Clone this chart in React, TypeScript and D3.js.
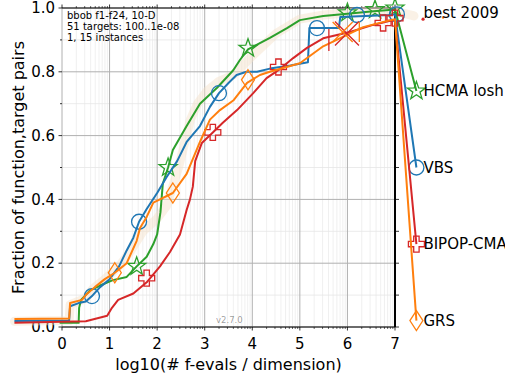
import React from 'react';
import * as d3 from 'd3';

const W = 505;
const H = 379;

// axes ticks
const xTicks = [0, 1, 2, 3, 4, 5, 6, 7];
const yTicks = [0, 0.2, 0.4, 0.6, 0.8, 1.0];
const yTickLabels = ['0.0', '0.2', '0.4', '0.6', '0.8', '1.0'];
const infoLines = ['bbob f1-f24, 10-D', '51 targets: 100..1e-08', '1, 15 instances'];

// [log10(evals/dim), fraction]
const best2009 = [
  [-1, 0.018], [0.15, 0.02], [0.17, 0.07], [0.5, 0.09], [0.65, 0.12], [0.9, 0.15],
  [1.2, 0.19], [1.45, 0.24], [1.7, 0.3], [2.0, 0.34], [2.2, 0.38], [2.45, 0.5],
  [2.7, 0.65], [2.85, 0.7], [3.05, 0.74], [3.3, 0.77], [3.6, 0.79], [4.0, 0.85],
  [4.5, 0.92], [5.0, 0.965], [5.5, 0.978], [6.2, 0.988], [7.0, 0.99], [7.4, 0.975],
];
const hcma = [
  [-0.05, 0.013], [0.35, 0.013], [0.36, 0.06], [0.4, 0.085], [0.59, 0.115], [0.8, 0.13],
  [1.07, 0.147], [1.36, 0.157], [1.57, 0.19], [1.78, 0.22], [1.92, 0.26], [2.0, 0.29],
  [2.07, 0.36], [2.12, 0.45], [2.23, 0.5], [2.33, 0.555], [2.62, 0.63], [2.9, 0.7],
  [3.26, 0.75], [3.6, 0.805], [3.74, 0.837], [3.91, 0.87], [4.37, 0.906], [4.73, 0.937],
  [5.0, 0.962], [5.49, 0.975], [6.0, 0.982], [6.55, 0.99], [7.0, 0.995], [7.45, 0.74],
];
const vbs = [
  [-1, 0.019], [0.15, 0.02], [0.17, 0.065], [0.35, 0.075], [0.5, 0.08], [0.63, 0.097],
  [0.8, 0.125], [1.0, 0.15], [1.2, 0.19], [1.36, 0.24], [1.5, 0.28], [1.62, 0.33],
  [1.78, 0.37], [2.0, 0.42], [2.2, 0.47], [2.42, 0.52], [2.62, 0.58], [2.9, 0.63],
  [3.11, 0.69], [3.3, 0.733], [3.5, 0.765], [3.67, 0.79], [3.88, 0.8], [4.1, 0.8],
  [4.37, 0.81], [4.8, 0.82], [5.17, 0.83], [5.2, 0.937], [5.82, 0.937], [5.85, 0.972],
  [6.9, 0.978], [7.0, 0.98], [7.45, 0.5],
];
const bipop = [
  [-1, 0.013], [0.5, 0.018], [0.95, 0.035], [1.05, 0.06], [1.18, 0.085], [1.5, 0.105],
  [1.78, 0.14], [2.06, 0.19], [2.27, 0.235], [2.48, 0.29], [2.62, 0.367], [2.69, 0.4],
  [2.75, 0.44], [2.8, 0.52], [2.94, 0.577], [3.17, 0.61], [3.38, 0.64], [3.68, 0.68],
  [4.02, 0.733], [4.3, 0.78], [4.55, 0.805], [4.86, 0.843], [5.15, 0.875], [5.49, 0.905],
  [6.05, 0.925], [6.54, 0.947], [6.96, 0.962], [7.0, 0.962], [7.45, 0.26],
];
const grs = [
  [-1, 0.025], [0.15, 0.027], [0.17, 0.075], [0.42, 0.085], [0.5, 0.1], [0.69, 0.125],
  [0.9, 0.15], [1.11, 0.17], [1.36, 0.2], [1.57, 0.27], [1.64, 0.31], [1.78, 0.345],
  [1.92, 0.39], [2.33, 0.42], [2.62, 0.48], [2.9, 0.58], [3.11, 0.65], [3.32, 0.68],
  [3.6, 0.71], [3.89, 0.765], [4.16, 0.79], [4.37, 0.8], [5.0, 0.827], [5.49, 0.88],
  [6.33, 0.94], [6.9, 0.962], [7.0, 0.965], [7.45, 0.02],
];

const hcmaMarks = [[1.57, 0.19], [2.23, 0.5], [3.91, 0.874], [6.0, 0.985], [6.58, 0.995], [7.0, 1.0], [7.45, 0.74]];
const vbsMarks = [[0.63, 0.097], [1.62, 0.33], [3.3, 0.733], [5.36, 0.937], [6.2, 0.978], [7.04, 0.98], [7.45, 0.5]];
const bipopMarks = [[1.78, 0.153], [3.17, 0.61], [4.55, 0.815], [6.75, 0.953], [7.0, 0.968], [7.45, 0.26]];
const grsMarks = [[1.11, 0.17], [2.33, 0.42], [3.91, 0.775], [7.45, 0.02]];

// budget crosses and bars
const crosses = [
  { x: 5.99, y: 0.92, s: 12, color: '#d62728' },
  { x: 5.9, y: 0.925, s: 10, color: '#ff7f0e' },
];
const bars = [
  { x: 5.61, y: 0.9, s: 11, color: '#d62728' },
  { x: 6.25, y: 0.925, s: 10, color: '#ff7f0e' },
];

const series = [
  { name: 'HCMA losh', data: hcma, marks: hcmaMarks, color: '#2ca02c', marker: 'star' },
  { name: 'VBS', data: vbs, marks: vbsMarks, color: '#1f77b4', marker: 'circle' },
  { name: 'BIPOP-CMA', data: bipop, marks: bipopMarks, color: '#d62728', marker: 'plus' },
  { name: 'GRS', data: grs, marks: grsMarks, color: '#ff7f0e', marker: 'diamond' },
];

const markerPath = (type: string) => {
  if (type === 'circle') return d3.symbol(d3.symbolCircle, Math.PI * 7.5 * 7.5)();
  if (type === 'star') {
    const pts = d3.range(10).map((i) => {
      const r = i % 2 === 0 ? 9.5 : 3.8;
      const a = (i * Math.PI) / 5;
      return [r * Math.sin(a), -r * Math.cos(a)];
    });
    return 'M' + pts.map((p) => p.join(',')).join('L') + 'Z';
  }
  if (type === 'plus') {
    const o = 8, i = 2.7;
    return `M${-i},${-o}H${i}V${-i}H${o}V${i}H${i}V${o}H${-i}V${i}H${-o}V${-i}H${-i}Z`;
  }
  return 'M0,-10L6.5,0L0,10L-6.5,0Z';
};

const App = () => {
  const x = d3.scaleLinear().domain([0, 7]).range([62, 395]);
  const y = d3.scaleLinear().domain([0, 1]).range([327, 8]);
  const line = d3.line<number[]>().x((d) => x(d[0])).y((d) => y(d[1]));

  const minorX: number[] = [];
  for (let k = 0; k < 7; k++) for (let m = 2; m <= 9; m++) minorX.push(k + Math.log10(m));
  const minorY = d3.range(1, 10, 2).map((v) => v / 10);
  const allY = d3.range(0, 11).map((v) => v / 10);

  const font = 'DejaVu Sans, sans-serif';

  return (
    <svg width={W} height={H} style={{ position: 'absolute', left: 0, top: 0, background: '#fff' }} fontFamily={font}>
      {/* grid */}
      {minorX.map((v) => (
        <line key={'mx' + v} x1={x(v)} x2={x(v)} y1={y(0)} y2={y(1)} stroke="#e6e6e6" strokeWidth={0.6} />
      ))}
      {minorY.map((v) => (
        <line key={'my' + v} x1={x(0)} x2={x(7)} y1={y(v)} y2={y(v)} stroke="#e6e6e6" strokeWidth={0.8} />
      ))}
      {xTicks.map((v) => (
        <line key={'gx' + v} x1={x(v)} x2={x(v)} y1={y(0)} y2={y(1)} stroke="#b0b0b0" strokeWidth={1} />
      ))}
      {yTicks.map((v) => (
        <line key={'gy' + v} x1={x(0)} x2={x(7)} y1={y(v)} y2={y(v)} stroke="#b0b0b0" strokeWidth={1} />
      ))}

      {/* spines */}
      <line x1={x(0)} x2={x(7)} y1={y(1)} y2={y(1)} stroke="#000" strokeWidth={1} />
      <line x1={x(0)} x2={x(7)} y1={y(0)} y2={y(0)} stroke="#000" strokeWidth={1} />
      <line x1={x(7)} x2={x(7)} y1={y(0)} y2={y(1)} stroke="#000" strokeWidth={2} />

      {/* x ticks */}
      {xTicks.map((v) => (
        <g key={'tx' + v}>
          <line x1={x(v)} x2={x(v)} y1={y(0)} y2={y(0) + 3.5} stroke="#000" strokeWidth={0.8} />
          <line x1={x(v)} x2={x(v)} y1={y(1)} y2={y(1) - 3.5} stroke="#000" strokeWidth={0.8} />
          <text x={x(v)} y={y(0) + 22} fontSize={15} textAnchor="middle">{v}</text>
        </g>
      ))}
      {minorX.map((v) => (
        <g key={'tmx' + v}>
          <line x1={x(v)} x2={x(v)} y1={y(0)} y2={y(0) + 2} stroke="#000" strokeWidth={0.6} />
          <line x1={x(v)} x2={x(v)} y1={y(1)} y2={y(1) - 2} stroke="#000" strokeWidth={0.6} />
        </g>
      ))}
      {/* y ticks */}
      {allY.map((v, i) => (
        <g key={'ty' + v}>
          <line x1={x(0)} x2={x(0) - (i % 2 === 0 ? 3.5 : 2)} y1={y(v)} y2={y(v)} stroke="#000" strokeWidth={0.8} />
          <line x1={x(7)} x2={x(7) + 4} y1={y(v)} y2={y(v)} stroke="#000" strokeWidth={0.8} />
        </g>
      ))}
      {yTicks.map((v, i) => (
        <text key={'yl' + v} x={x(0) - 7} y={y(v)} dy="0.35em" fontSize={15} textAnchor="end">{yTickLabels[i]}</text>
      ))}

      {/* axis labels */}
      <text x={x(3.5)} y={370} fontSize={16} textAnchor="middle">log10(# f-evals / dimension)</text>
      <text transform={`translate(24,${y(0.5)}) rotate(-90)`} fontSize={16} textAnchor="middle">Fraction of function,target pairs</text>

      {/* info */}
      {infoLines.map((t, i) => (
        <text key={t} x={67} y={18.5 + i * 11} fontSize={10}>{t}</text>
      ))}
      <text x={216} y={323} fontSize={8.5} fill="#000" fillOpacity={0.4}>v2.7.0</text>

      {/* best 2009 */}
      <path d={line(best2009) || ''} fill="none" stroke="#f5dfc8" strokeOpacity={0.45} strokeWidth={9} strokeLinejoin="round" strokeLinecap="round" />
      <circle cx={x(7.59)} cy={y(0.965)} r={1.6} fill="#d62728" />
      <circle cx={x(8.01)} cy={y(0.97)} r={1.2} fill="#ff7f0e" />
      <text x={x(7.45) + 7} y={y(0.985)} dy="0.35em" fontSize={15}>best 2009</text>

      {/* algorithms */}
      {series.map((s) => (
        <g key={s.name}>
          <path d={line(s.data) || ''} fill="none" stroke={s.color} strokeWidth={2} strokeLinejoin="round" />
          {s.marks.map((m, i) => (
            <path key={i} d={markerPath(s.marker) || ''} transform={`translate(${x(m[0])},${y(m[1])})`} fill="none" stroke={s.color} strokeWidth={1.3} />
          ))}
        </g>
      ))}
      {crosses.map((c, i) => (
        <path key={'c' + i} d={`M${x(c.x) - c.s},${y(c.y) - c.s}L${x(c.x) + c.s},${y(c.y) + c.s}M${x(c.x) - c.s},${y(c.y) + c.s}L${x(c.x) + c.s},${y(c.y) - c.s}`} stroke={c.color} strokeWidth={1.3} fill="none" />
      ))}
      {bars.map((b, i) => (
        <line key={'b' + i} x1={x(b.x)} x2={x(b.x)} y1={y(b.y) - b.s} y2={y(b.y) + b.s} stroke={b.color} strokeWidth={1.3} />
      ))}
      {series.map((s) => {
        const last = s.data[s.data.length - 1];
        return (
          <text key={'lab' + s.name} x={x(last[0]) + 7} y={y(last[1])} dy="0.35em" fontSize={15}>{s.name}</text>
        );
      })}
    </svg>
  );
};

export default App;
